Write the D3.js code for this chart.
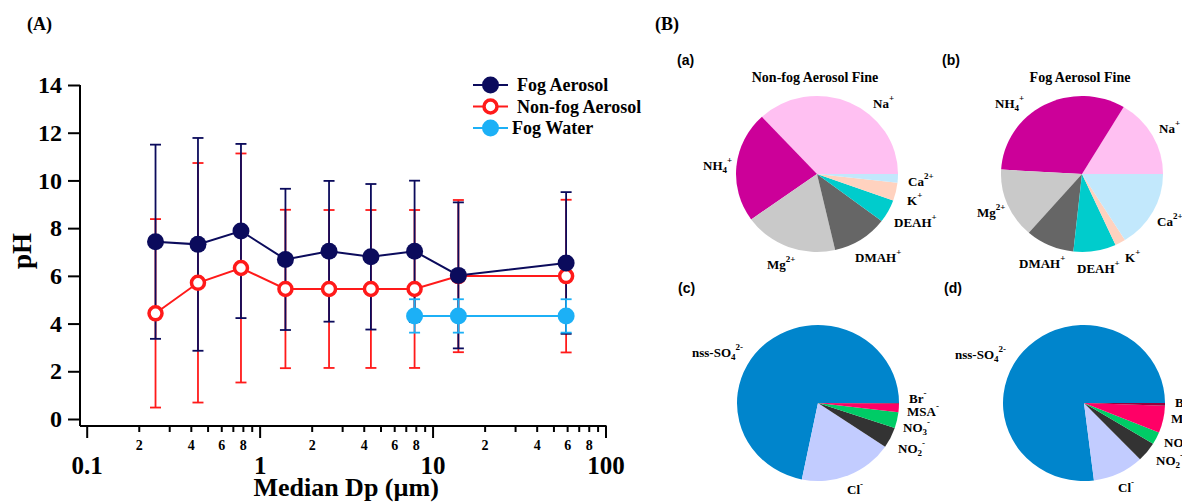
<!DOCTYPE html>
<html lang="en">
<head>
<meta charset="UTF-8">
<title>pH vs Median Dp and ion pies</title>
<script src="https://d3js.org/d3.v7.min.js"></script>
<style>
  body { margin: 0; background: #fff; }
  svg text { font-family: "Liberation Serif", "Times New Roman", serif; font-weight: bold; fill: #000; }
  svg text.panel { font-family: "Liberation Sans", Arial, sans-serif; }
</style>
</head>
<body>
<div id="chart"></div>
<script>
  // ---- panel (A) data ----
  const medianDp = [0.25, 0.44, 0.78, 1.41, 2.52, 4.4, 7.87, 14.1, 59.2];
  const fogAerosolPH = [7.43, 7.32, 7.88, 6.69, 7.03, 6.8, 7.03, 6.02, 6.54];
  const fogAerosolErr = [4.07, 4.46, 3.65, 2.96, 2.95, 3.05, 2.96, 3.06, 2.97];
  const nonFogPH = [4.43, 5.71, 6.33, 5.45, 5.45, 5.45, 5.45, 5.99, 5.99];
  const nonFogErr = [3.95, 5.02, 4.8, 3.32, 3.31, 3.31, 3.31, 3.19, 3.2];
  const fogWaterDp = [7.87, 14.1, 59.2];
  const fogWaterPH = [4.32, 4.32, 4.32];
  const fogWaterErr = [0.7, 0.7, 0.7];
  const yTicks = [0, 2, 4, 6, 8, 10, 12, 14];

  // ---- panel (B) data (percent of total) ----
  const cationNames = ["Na^+", "NH_4^+", "Mg^2+", "DMAH^+", "DEAH^+", "K^+", "Ca^2+"];
  const cationColors = ["#ffc0f2", "#cc0099", "#c9c9c9", "#666666", "#00cccc", "#ffd2bf", "#c2e8fc"];
  const nonFogFineCations = [36.9, 23.0, 18.7, 11.1, 4.8, 3.7, 1.8];
  const fogFineCations = [16.4, 32.7, 14.5, 9.7, 8.5, 2.1, 16.1];
  const anionNames = ["nss-SO_4^2-", "Cl^-", "NO_2^-", "NO_3^-", "MSA^-", "Br^-"];
  const anionColors = ["#0085cc", "#c2ccff", "#333333", "#00cc66", "#ff0066", "#99003d"];
  const nonFogFineAnions = [71.8, 18.75, 4.28, 3.28, 1.75, 0.14];
  const fogFineAnions = [77.0, 10.2, 4.1, 2.6, 5.6, 0.55];

  // label offsets from each pie centre (layout only)
  const labelPosA = [[56, -66], [-114, -4], [-50, 95], [38, 88], [77, 53], [90, 31], [91, 12]];
  const labelPosB = [[77, -41], [-87, -66], [-105, 43], [-63, 94], [-5, 99], [43, 88], [75, 52]];
  const labelPosC = [[-126, -46], [29, 91], [80, 50], [85, 29], [89, 13], [91, 0]];
  const labelPosD = [[-129, -44], [34, 89], [72, 62], [80, 44], [87, 20], [91, 4]];

  const navy = "#0b0b5c", red = "#ff1a1a", sky = "#1cb0f6";

  const svg = d3.select("#chart").append("svg")
    .attr("width", 1182)
    .attr("height", 502);

  svg.append("text").attr("x", 27).attr("y", 30).attr("font-size", "18px").text("(A)");
  svg.append("text").attr("x", 655).attr("y", 30).attr("font-size", "18px").text("(B)");

  // ---------- panel A ----------
  const axisX0 = 80, axisY0 = 426;
  const x = d3.scaleLog().domain([0.1, 100]).range([86.7, 605.5]);
  const y = d3.scaleLinear().domain([0, 14]).range([419, 85]);

  const gA = svg.append("g");

  // axis lines
  gA.append("line").attr("x1", axisX0).attr("x2", axisX0)
    .attr("y1", y(14)).attr("y2", axisY0).attr("stroke", "#000").attr("stroke-width", 2);
  gA.append("line").attr("x1", axisX0).attr("x2", x(100) + 1)
    .attr("y1", axisY0).attr("y2", axisY0).attr("stroke", "#000").attr("stroke-width", 2);

  const yAxis = gA.append("g")
    .attr("transform", `translate(${axisX0},0)`)
    .call(d3.axisLeft(y).tickValues(yTicks).tickSize(12).tickPadding(6).tickFormat(d3.format("d")));
  yAxis.select(".domain").remove();
  yAxis.selectAll("line").attr("stroke-width", 2);
  yAxis.selectAll("text").attr("font-size", "24px").attr("font-family", null).attr("fill", "#000");

  const minorVals = [];
  [0.1, 1, 10].forEach(dec => { for (let k = 2; k <= 9; k++) minorVals.push(+(dec * k).toPrecision(3)); });
  const minorAxis = gA.append("g")
    .attr("transform", `translate(0,${axisY0})`)
    .call(d3.axisBottom(x).tickValues(minorVals).tickSize(6).tickPadding(8)
      .tickFormat(d => {
        const lead = Math.round(d / Math.pow(10, Math.floor(Math.log10(d) + 1e-9)));
        return [2, 4, 6, 8].includes(lead) ? String(lead) : "";
      }));
  minorAxis.select(".domain").remove();
  minorAxis.selectAll("line").attr("stroke-width", 2);
  minorAxis.selectAll("text").attr("font-size", "14px").attr("font-family", null).attr("fill", "#000");

  const majorAxis = gA.append("g")
    .attr("transform", `translate(0,${axisY0})`)
    .call(d3.axisBottom(x).tickValues([0.1, 1, 10, 100]).tickSize(12).tickPadding(18)
      .tickFormat(d3.format("~g")));
  majorAxis.select(".domain").remove();
  majorAxis.selectAll("line").attr("stroke-width", 2);
  majorAxis.selectAll("text").attr("font-size", "25px").attr("font-family", null).attr("fill", "#000");

  gA.append("text")
    .attr("x", (x.range()[0] + x.range()[1]) / 2).attr("y", 496)
    .attr("text-anchor", "middle").attr("font-size", "26px")
    .text("Median Dp (µm)");
  gA.append("text")
    .attr("transform", "rotate(-90)")
    .attr("x", -(y(7) - 1)).attr("y", 31)
    .attr("text-anchor", "middle").attr("font-size", "27px")
    .text("pH");

  function errorBars(xs, vals, errs, color) {
    const g = gA.append("g").attr("stroke", color).attr("stroke-width", 1.8);
    xs.forEach((d, i) => {
      const cx = x(d), top = y(vals[i] + errs[i]), bot = y(vals[i] - errs[i]);
      g.append("line").attr("x1", cx).attr("x2", cx).attr("y1", top).attr("y2", bot);
      g.append("line").attr("x1", cx - 5.5).attr("x2", cx + 5.5).attr("y1", top).attr("y2", top);
      g.append("line").attr("x1", cx - 5.5).attr("x2", cx + 5.5).attr("y1", bot).attr("y2", bot);
    });
  }
  function seriesLine(xs, vals, color) {
    gA.append("path")
      .datum(xs.map((d, i) => [d, vals[i]]))
      .attr("fill", "none").attr("stroke", color).attr("stroke-width", 2)
      .attr("d", d3.line().x(d => x(d[0])).y(d => y(d[1])));
  }

  errorBars(medianDp, nonFogPH, nonFogErr, red);
  errorBars(medianDp, fogAerosolPH, fogAerosolErr, navy);
  seriesLine(medianDp, nonFogPH, red);
  seriesLine(medianDp, fogAerosolPH, navy);

  gA.append("g").selectAll("circle")
    .data(medianDp).join("circle")
    .attr("cx", d => x(d)).attr("cy", (d, i) => y(nonFogPH[i]))
    .attr("r", 6.5).attr("fill", "#fff").attr("stroke", red).attr("stroke-width", 3.5);
  gA.append("g").selectAll("circle")
    .data(medianDp).join("circle")
    .attr("cx", d => x(d)).attr("cy", (d, i) => y(fogAerosolPH[i]))
    .attr("r", 8.5).attr("fill", navy);

  errorBars(fogWaterDp, fogWaterPH, fogWaterErr, sky);
  seriesLine(fogWaterDp, fogWaterPH, sky);
  gA.append("g").selectAll("circle")
    .data(fogWaterDp).join("circle")
    .attr("cx", d => x(d)).attr("cy", (d, i) => y(fogWaterPH[i]))
    .attr("r", 8.5).attr("fill", sky);

  // legend
  const legendItems = [
    { name: "Fog Aerosol", color: navy, open: false },
    { name: "Non-fog Aerosol", color: red, open: true },
    { name: "Fog Water", color: sky, open: false }
  ];
  const leg = gA.append("g").attr("transform", "translate(473,85)");
  legendItems.forEach((it, i) => {
    const row = leg.append("g").attr("transform", `translate(0,${i * 21.5})`);
    row.append("line").attr("x1", 0).attr("x2", 35).attr("stroke", it.color).attr("stroke-width", 2);
    row.append("circle").attr("cx", 17.5).attr("r", it.open ? 6.5 : 8.5)
      .attr("fill", it.open ? "#fff" : it.color)
      .attr("stroke", it.open ? it.color : "none").attr("stroke-width", 3.5);
    row.append("text").attr("x", i === 2 ? 39 : 44).attr("y", 6).attr("font-size", "18px").text(it.name);
  });

  // ---------- panel B (pies) ----------
  function richLabel(sel, str) {
    const m = str.match(/^([^_^]+)(?:_(\w))?(?:\^(.+))?$/);
    sel.append("tspan").text(m[1]);
    if (m[2]) sel.append("tspan").attr("font-size", "9px").attr("dy", 3).text(m[2]);
    if (m[3]) sel.append("tspan").attr("font-size", "9px").attr("dy", m[2] ? -10 : -7).text(m[3]);
  }

  function drawPie(cx, cy, values, names, colors, labelPos, tag, title) {
    const rx = 81, ry = 78;
    const g = svg.append("g");
    const pie = d3.pie().sort(null)
      .startAngle(Math.PI / 2).endAngle(Math.PI / 2 - 2 * Math.PI);
    const arc = d3.arc().innerRadius(0).outerRadius(rx);
    g.append("g")
      .attr("transform", `translate(${cx},${cy}) scale(1,${ry / rx})`)
      .selectAll("path")
      .data(pie(values)).join("path")
      .attr("d", arc)
      .attr("fill", (d, i) => colors[i]);
    names.forEach((n, i) => {
      const t = g.append("text")
        .attr("x", cx + labelPos[i][0]).attr("y", cy + labelPos[i][1])
        .attr("font-size", "13px");
      richLabel(t, n);
    });
    g.append("text").attr("class", "panel")
      .attr("x", cx - 140).attr("y", cy - 109 + (title ? 0 : -1))
      .attr("font-size", "14px").text(tag);
    if (title) {
      g.append("text").attr("x", cx - 2).attr("y", cy - 92)
        .attr("text-anchor", "middle").attr("font-size", "14px").text(title);
    }
  }

  drawPie(817, 174, nonFogFineCations, cationNames, cationColors, labelPosA, "(a)", "Non-fog Aerosol Fine");
  drawPie(1082, 174, fogFineCations, cationNames, cationColors, labelPosB, "(b)", "Fog Aerosol Fine");
  drawPie(818, 403, nonFogFineAnions, anionNames, anionColors, labelPosC, "(c)", null);
  drawPie(1084, 403, fogFineAnions, anionNames, anionColors, labelPosD, "(d)", null);
</script>
</body>
</html>
